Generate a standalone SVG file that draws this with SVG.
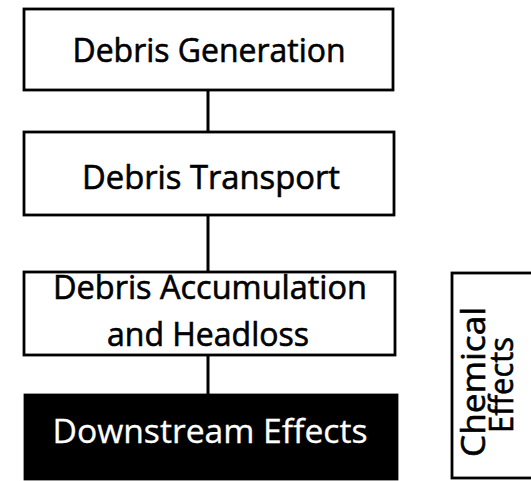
<svg xmlns="http://www.w3.org/2000/svg" width="531" height="481" viewBox="0 0 531 481">
  <style>
    .box { fill: #ffffff; stroke: #000000; stroke-width: 2.8; }
    .dark { fill: #000000; stroke: #000000; stroke-width: 2.8; }
    .lbl { font-family: "Open Sans", "Liberation Sans", sans-serif; font-size: 32px; fill: #000000; stroke: #000000; stroke-width: 0.6; text-anchor: middle; }
    .inv { fill: #ffffff; stroke: #ffffff; stroke-width: 0.3; }
    .link { stroke: #000000; stroke-width: 3; fill: none; }
  </style>
  <rect width="531" height="481" fill="#ffffff"/>

  <!-- connectors between the stages -->
  <g id="connectors">
    <line class="link" x1="208" y1="90" x2="208" y2="132"/>
    <line class="link" x1="208" y1="215" x2="208" y2="272"/>
    <line class="link" x1="208" y1="355" x2="208" y2="395"/>
  </g>

  <g id="debris-generation">
    <rect class="box" x="24" y="9" width="369" height="81"/>
    <text class="lbl" x="209" y="62" textLength="273" lengthAdjust="spacingAndGlyphs">Debris Generation</text>
  </g>

  <g id="debris-transport">
    <rect class="box" x="24" y="132" width="370" height="83"/>
    <text class="lbl" x="211" y="189" textLength="258" lengthAdjust="spacingAndGlyphs">Debris Transport</text>
  </g>

  <g id="debris-accumulation">
    <rect class="box" x="24" y="272" width="371" height="83"/>
    <text class="lbl" x="210" y="299" textLength="314" lengthAdjust="spacingAndGlyphs">Debris Accumulation</text>
    <text class="lbl" x="208" y="346" textLength="202" lengthAdjust="spacingAndGlyphs">and Headloss</text>
  </g>

  <g id="downstream-effects">
    <rect class="dark" x="25" y="395" width="372" height="84"/>
    <text class="lbl inv" x="210" y="443" textLength="315" lengthAdjust="spacingAndGlyphs">Downstream Effects</text>
  </g>

  <!-- side box, extends past the right edge -->
  <g id="chemical-effects">
    <rect class="box" x="452" y="273" width="100" height="205"/>
    <text class="lbl" transform="translate(485,382) rotate(-90)" textLength="150" lengthAdjust="spacingAndGlyphs">Chemical</text>
    <text class="lbl" transform="translate(513,385) rotate(-90)" textLength="96" lengthAdjust="spacingAndGlyphs">Effects</text>
  </g>
</svg>
